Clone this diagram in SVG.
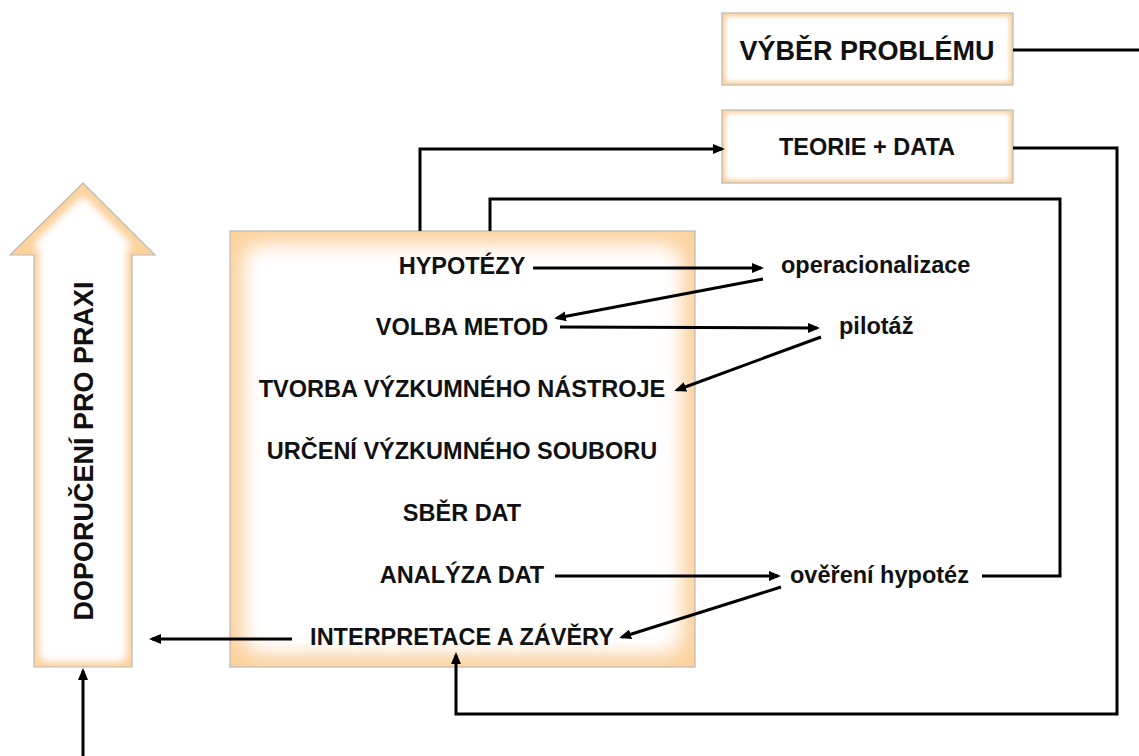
<svg xmlns="http://www.w3.org/2000/svg" width="1139" height="756" viewBox="0 0 1139 756">
<style>
  .t { font-family: "Liberation Sans", Arial, sans-serif; font-weight: bold; fill: #111; }
  .c { stroke: #000; stroke-width: 3; fill: none; }
  .edge { fill: none; stroke: #b9b9b9; stroke-width: 1.2; }
  .shape { fill: #fcd39c; }
</style>
<defs>
  <marker id="ah" markerUnits="userSpaceOnUse" markerWidth="12" markerHeight="10" refX="9" refY="5" orient="auto">
    <path d="M0,0 L12,5 L0,10 z" fill="#000"/>
  </marker>
  <filter id="glowBig" x="0" y="0" width="1" height="1">
    <feMorphology in="SourceAlpha" operator="erode" radius="20" result="e"/>
    <feGaussianBlur in="e" stdDeviation="11" result="b"/>
    <feFlood flood-color="#ffffff" result="f"/>
    <feComposite in="f" in2="b" operator="in" result="w"/>
    <feComposite in="w" in2="SourceAlpha" operator="in" result="wc"/>
    <feMerge><feMergeNode in="SourceGraphic"/><feMergeNode in="wc"/><feMergeNode in="wc"/></feMerge>
  </filter>
  <filter id="glowMid" x="0" y="0" width="1" height="1">
    <feMorphology in="SourceAlpha" operator="erode" radius="8" result="e"/>
    <feGaussianBlur in="e" stdDeviation="4.5" result="b"/>
    <feFlood flood-color="#ffffff" result="f"/>
    <feComposite in="f" in2="b" operator="in" result="w"/>
    <feComposite in="w" in2="SourceAlpha" operator="in" result="wc"/>
    <feMerge><feMergeNode in="SourceGraphic"/><feMergeNode in="wc"/><feMergeNode in="wc"/></feMerge>
  </filter>
  <filter id="glowSmall" x="0" y="0" width="1" height="1">
    <feMorphology in="SourceAlpha" operator="erode" radius="5" result="e"/>
    <feGaussianBlur in="e" stdDeviation="2.5" result="b"/>
    <feFlood flood-color="#ffffff" result="f"/>
    <feComposite in="f" in2="b" operator="in" result="w"/>
    <feComposite in="w" in2="SourceAlpha" operator="in" result="wc"/>
    <feMerge><feMergeNode in="SourceGraphic"/><feMergeNode in="wc"/><feMergeNode in="wc"/></feMerge>
  </filter>
</defs>
<rect width="1139" height="756" fill="#fff"/>

<g id="vyber-problemu">
  <rect class="shape" x="722" y="13" width="291" height="72" filter="url(#glowSmall)"/>
  <rect class="edge" x="722" y="13" width="291" height="72"/>
  <text class="t" x="867" y="60" font-size="27" text-anchor="middle">VÝBĚR PROBLÉMU</text>
</g>

<g id="teorie-data">
  <rect class="shape" x="722" y="110" width="291" height="73" filter="url(#glowSmall)"/>
  <rect class="edge" x="722" y="110" width="291" height="73"/>
  <text class="t" x="867" y="155" font-size="23.5" text-anchor="middle">TEORIE + DATA</text>
</g>

<g id="doporuceni">
  <polygon class="shape" points="83,183 155,255 132,255 132,667 34,667 34,255 10,255" filter="url(#glowMid)"/>
  <polygon class="edge" points="83,183 155,255 132,255 132,667 34,667 34,255 10,255"/>
  <text class="t" font-size="27" text-anchor="middle" transform="translate(93,451) rotate(-90)">DOPORUČENÍ PRO PRAXI</text>
</g>

<g id="proces">
  <rect class="shape" x="230" y="231" width="465" height="436" filter="url(#glowBig)"/>
  <rect class="edge" x="230" y="231" width="465" height="436"/>
  <g class="t" font-size="23.5" text-anchor="middle">
    <text id="hypotezy" x="462" y="274">HYPOTÉZY</text>
    <text id="volba-metod" x="462" y="335">VOLBA METOD</text>
    <text id="tvorba" x="462" y="397">TVORBA VÝZKUMNÉHO NÁSTROJE</text>
    <text id="urceni" x="462" y="459">URČENÍ VÝZKUMNÉHO SOUBORU</text>
    <text id="sber" x="462" y="521">SBĚR DAT</text>
    <text id="analyza" x="462" y="583">ANALÝZA DAT</text>
    <text id="interpretace" x="462" y="645">INTERPRETACE A ZÁVĚRY</text>
  </g>
</g>

<g id="operacionalizace"><text class="t" x="781" y="273" font-size="23.5">operacionalizace</text></g>
<g id="pilotaz"><text class="t" x="839" y="334" font-size="23.5">pilotáž</text></g>
<g id="overeni"><text class="t" x="790" y="583" font-size="23.5">ověření hypotéz</text></g>

<g id="connectors">
  <line class="c" x1="1013" y1="50" x2="1139" y2="50"/>
  <polyline class="c" points="420,231 420,149 722,149" marker-end="url(#ah)"/>
  <polyline class="c" points="490,231 490,199 1060,199 1060,576 982,576"/>
  <polyline class="c" points="1013,148 1117,148 1117,714 456,714 456,655" marker-end="url(#ah)"/>
  <line class="c" x1="533" y1="268" x2="761" y2="268" marker-end="url(#ah)"/>
  <line class="c" x1="763" y1="279" x2="557" y2="318" marker-end="url(#ah)"/>
  <line class="c" x1="560" y1="327" x2="817" y2="328" marker-end="url(#ah)"/>
  <line class="c" x1="821" y1="337" x2="677" y2="390" marker-end="url(#ah)"/>
  <line class="c" x1="555" y1="576" x2="778" y2="576" marker-end="url(#ah)"/>
  <line class="c" x1="781" y1="587" x2="622" y2="637" marker-end="url(#ah)"/>
  <line class="c" x1="292" y1="639" x2="152" y2="639" marker-end="url(#ah)"/>
  <line class="c" x1="83" y1="756" x2="83" y2="671" marker-end="url(#ah)"/>
</g>
</svg>
